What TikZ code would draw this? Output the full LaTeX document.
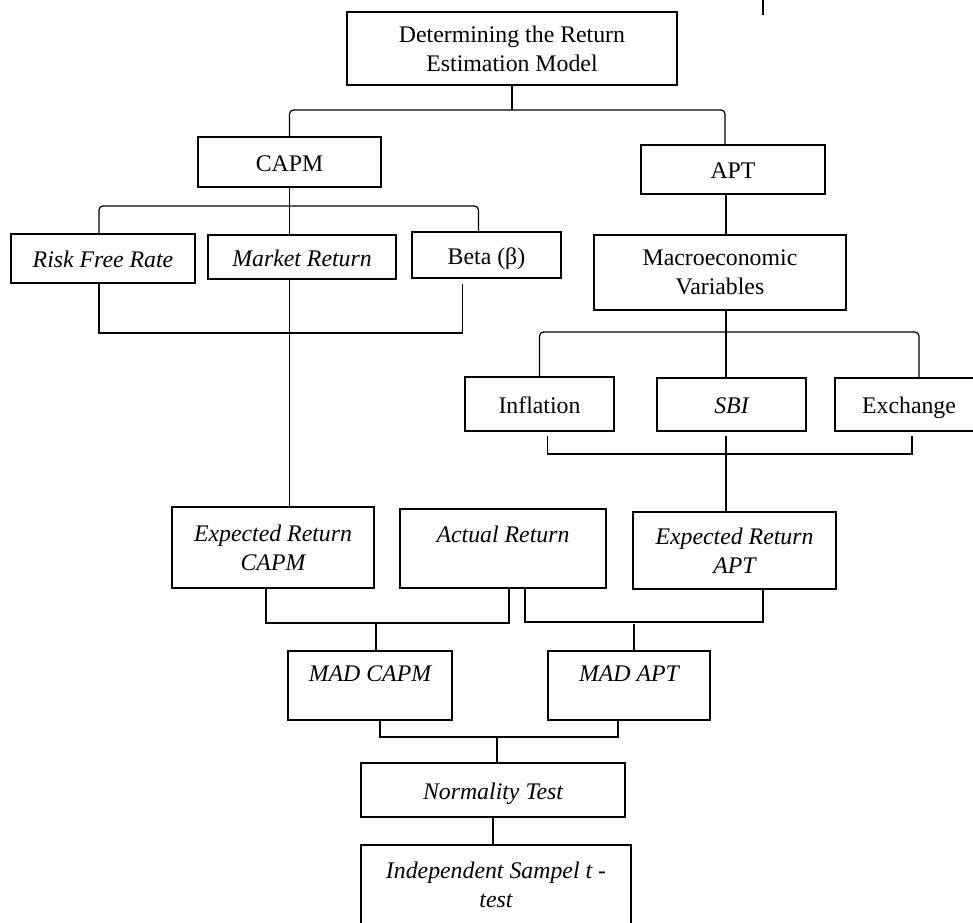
\documentclass[tikz,border=0pt]{standalone}
\usepackage{fontspec}
\setmainfont{Liberation Serif}

\tikzset{
  blk/.style={draw, line width=0.6pt, align=center, inner sep=0pt,
    font=\fontsize{11.9}{14.5}\selectfont},
  blkit/.style={blk, font=\fontsize{11.9}{14.5}\selectfont\itshape},
  oneline/.style={text height=9pt, text depth=0pt},
  conn/.style={line width=0.6pt},
}

\begin{document}
\begin{tikzpicture}[x=0.5pt, y=-0.5pt, conn]
    \useasboundingbox (0,0) rectangle (973,922);
    \clip (0,0) rectangle (973,922);

    \node[blk, minimum width=165pt, minimum height=36.5pt] (top) at (512,48.5) {Determining the Return\\Estimation Model};
    \node[blk, oneline, minimum width=91.5pt, minimum height=25pt] (capm) at (289.5,162) {CAPM};
    \node[blk, oneline, minimum width=92pt, minimum height=24.5pt] (apt) at (733,169.5) {APT};

    \node[blkit, oneline, minimum width=92pt, minimum height=24.5pt] (rfr) at (103,258.5) {Risk Free Rate};
    \node[blkit, oneline, minimum width=94pt, minimum height=22pt] (market) at (302,257) {Market Return};
    \node[blk, oneline, minimum width=74.5pt, minimum height=23pt] (beta) at (486.5,255) {Beta (β)};
    \node[blk, minimum width=126pt, minimum height=37.5pt] (macro) at (720,272.5) {Macroeconomic\\Variables};

    \node[blk, oneline, minimum width=74.5pt, minimum height=27pt] (infl) at (539.5,404) {Inflation};
    \node[blkit, oneline, minimum width=74.5pt, minimum height=26.5pt] (sbi) at (731.5,404.5) {SBI};
    \node[blk, oneline, minimum width=74pt, minimum height=26.5pt] (exch) at (909,404.5) {Exchange};

    \node[blkit, minimum width=101pt, minimum height=40.5pt] (erc) at (273,547.5) {Expected Return\\CAPM};
    \node[blkit, minimum width=103pt, minimum height=39.5pt] (act) at (503,548.5) {Actual Return\\\mbox{}};
    \node[blkit, minimum width=101.5pt, minimum height=38.5pt] (era) at (734.5,550.5) {Expected Return\\APT};

    \node[blkit, minimum width=82pt, minimum height=34.5pt] (madc) at (370,685.5) {MAD CAPM\\[-3pt]\mbox{}};
    \node[blkit, minimum width=81pt, minimum height=34.5pt] (mada) at (629,685.5) {MAD APT\\[-3pt]\mbox{}};
    \node[blkit, oneline, minimum width=132pt, minimum height=27pt] (norm) at (493,790) {Normality Test};
    \node[blkit, minimum width=135pt, minimum height=40pt] (indep) at (496,885) {Independent Sampel t -\\test};

    \coordinate (jt) at (512,110);
    \coordinate (j2) at (289.5,206);
    \coordinate (j3) at (289.5,333);
    \coordinate (jm) at (726,332);
    \coordinate (jb) at (726,454);
    \coordinate (jc) at (376,623);
    \coordinate (ja) at (634,622);
    \coordinate (jn) at (497,737);
    \coordinate (stray) at (763,0);

    \draw (top.south) -- (jt);
    \draw[rounded corners=2pt] (capm.north) |- (jt) -| ([xshift=-4pt]apt.north);

    \draw (capm.south) -- (capm.south |- market.north);
    \draw[rounded corners=2pt] ([xshift=-2pt]rfr.north) |- (j2) -| ([xshift=-4pt]beta.north);
    \draw ([xshift=-2pt]rfr.south) |- (j3) -| ([xshift=-12pt,yshift=-2.5pt]beta.south);
    \draw (capm.south |- market.south) -- (capm.south |- erc.north);

    \draw (jm |- apt.south) -- (jm |- macro.north);
    \draw (jm |- macro.south) -- (jm |- sbi.north);
    \draw[rounded corners=2pt] (infl.north) |- (jm) -| ([xshift=5pt]exch.north);
    \draw ([xshift=4pt,yshift=-2pt]infl.south) |- (jb) -| ([xshift=1.5pt,yshift=-2pt]exch.south);
    \draw ([yshift=-2pt]jm |- sbi.south) -- (jm |- era.north);

    \draw ([xshift=-3.5pt]erc.south) |- (jc) -| ([xshift=3pt]act.south);
    \draw (jc) -- (jc |- madc.north);
    \draw ([xshift=11pt]act.south) |- (ja) -| ([xshift=14.25pt]era.south);
    \draw ([yshift=-1pt]ja) -- (ja |- mada.north);

    \draw ([xshift=5pt]madc.south) |- (jn) -| ([xshift=-5.5pt]mada.south);
    \draw (jn) -- (jn |- norm.north);
    \draw (norm.south) -- (norm.south |- indep.north);

    \draw (stray) -- ++(0,15);
\end{tikzpicture}
\end{document}
